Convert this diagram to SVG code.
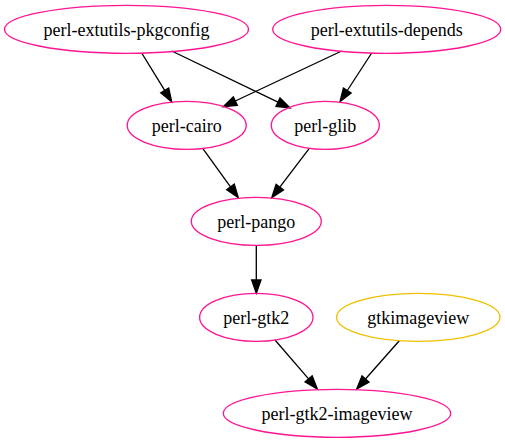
<svg xmlns="http://www.w3.org/2000/svg" width="505" height="443" viewBox="0 0 505 443">
<style>
.n ellipse{fill:none;stroke:#ff1493;stroke-width:1.33}
.n.y ellipse{stroke:#f0c000}
text{font-family:'Liberation Serif','Times New Roman','DejaVu Serif',serif;font-size:18px;text-anchor:middle;fill:#000}
.e line{stroke:#000;stroke-width:1.33;marker-end:url(#ah)}
</style>
<defs>
<marker id="ah" markerUnits="userSpaceOnUse" markerWidth="15" markerHeight="12" refX="0" refY="4.67" orient="auto" overflow="visible">
<path d="M0,0 L13.3,4.67 L0,9.33 Z" fill="#000" stroke="#000" stroke-width="1.33"/>
</marker>
</defs>
<rect width="505" height="443" fill="#fff"/>
<g id="edges" class="e">
<line x1="141.7" y1="53" x2="164.7" y2="90.4"/>
<line x1="171.7" y1="51" x2="278.0" y2="102.2"/>
<line x1="341.7" y1="51" x2="235.3" y2="101.0"/>
<line x1="371.7" y1="53" x2="347.3" y2="90.5"/>
<line x1="202.7" y1="148.3" x2="230.5" y2="186.9"/>
<line x1="309.3" y1="148.3" x2="279.8" y2="187.1"/>
<line x1="256.3" y1="245.3" x2="256.3" y2="280"/>
<line x1="275" y1="340" x2="308.6" y2="378.9"/>
<line x1="399.3" y1="340.7" x2="365.5" y2="379.0"/>
</g>
<g id="perl-extutils-pkgconfig" class="n"><ellipse cx="126.5" cy="29.3" rx="122" ry="24"/><text x="126.5" y="35.5">perl-extutils-pkgconfig</text></g>
<g id="perl-extutils-depends" class="n"><ellipse cx="386.7" cy="29.3" rx="114" ry="24"/><text x="386.7" y="35.5">perl-extutils-depends</text></g>
<g id="perl-cairo" class="n"><ellipse cx="186.7" cy="125.3" rx="59.5" ry="24"/><text x="186.7" y="131.5">perl-cairo</text></g>
<g id="perl-glib" class="n"><ellipse cx="325.3" cy="125.3" rx="54" ry="24"/><text x="325.3" y="131.5">perl-glib</text></g>
<g id="perl-pango" class="n"><ellipse cx="256.3" cy="221.3" rx="65" ry="24"/><text x="256.3" y="227.5">perl-pango</text></g>
<g id="perl-gtk2" class="n"><ellipse cx="256.3" cy="317.3" rx="56.7" ry="24"/><text x="256.3" y="323.5">perl-gtk2</text></g>
<g id="gtkimageview" class="n y"><ellipse cx="418.3" cy="317.3" rx="81.7" ry="24"/><text x="418.3" y="323.5">gtkimageview</text></g>
<g id="perl-gtk2-imageview" class="n"><ellipse cx="337" cy="413.3" rx="113.7" ry="24"/><text x="337" y="419.5">perl-gtk2-imageview</text></g>
</svg>
